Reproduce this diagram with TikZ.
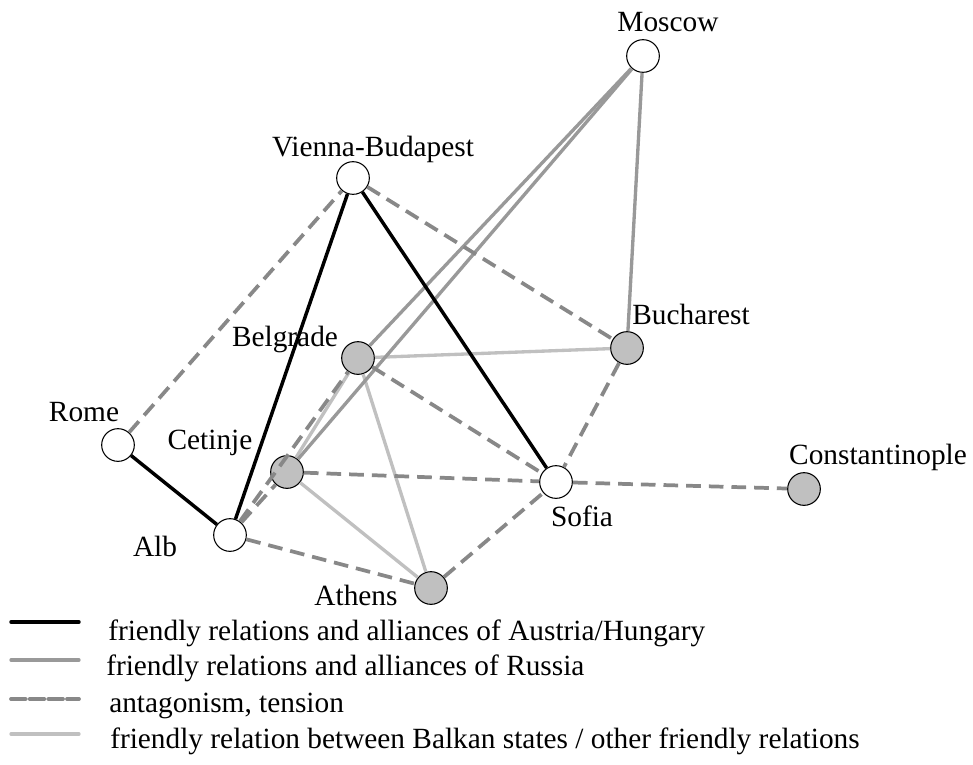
\documentclass[tikz,border=0pt]{standalone}
\usepackage{fontspec}
\setmainfont{Liberation Serif}
\definecolor{rusgray}{HTML}{999999}
\definecolor{tensgray}{HTML}{888888}
\definecolor{balgray}{HTML}{C0C0C0}
\definecolor{nodegray}{HTML}{C0C0C0}
\tikzset{
  city/.style={circle, draw=black, line width=0.8pt, minimum size=24.5pt, inner sep=0pt, fill=white},
  balkan/.style={city, fill=nodegray},
  lbl/.style={anchor=base, inner sep=0pt, font=\fontsize{22}{26}\selectfont},
  legtext/.style={anchor=base west, inner sep=0pt, font=\fontsize{22}{26}\selectfont},
  aus/.style={line width=2.6pt, black},
  rus/.style={line width=2.5pt, rusgray},
  tens/.style={line width=2.8pt, tensgray, dash pattern=on 11pt off 6pt},
  legtens/.style={line width=2.8pt, tensgray, dash pattern=on 11pt off 3pt, line cap=round},
  bal/.style={line width=2.5pt, balgray},
}
\begin{document}
\begin{tikzpicture}[x=0.75pt, y=-0.75pt]
\useasboundingbox (0,0) rectangle (973,764);
% cities
\node[city]   (mos) at (643,56)  {};
\node[city]   (vie) at (353,178) {};
\node[balkan] (buc) at (627,348) {};
\node[balkan] (bel) at (358,358) {};
\node[city]   (rom) at (118,445) {};
\node[balkan] (cet) at (287,472) {};
\node[city]   (sof) at (556,482) {};
\node[balkan] (con) at (804,489) {};
\node[city]   (alb) at (230,535) {};
\node[balkan] (ath) at (431,588) {};
% labels
\node[lbl] (lmos) at (668,31)  {Moscow};
\node[lbl] (lvie) at (373,156) {Vienna-Budapest};
\node[lbl] (lbuc) at (691,324) {Bucharest};
\node[lbl] (lbel) at (285,346) {Belgrade};
\node[lbl] (lrom) at (84,421)  {Rome};
\node[lbl] (lcet) at (210,449) {Cetinje};
\node[lbl] (lsof) at (582,526) {Sofia};
\node[lbl] (lcon) at (878,464) {Constantinople};
\node[lbl] (lalb) at (155,556) {Alb};
\node[lbl] (lath) at (356,605) {Athens};
% friendly relations between Balkan states
\draw[bal] (bel) -- (buc);
\draw[bal] (bel) -- (cet);
\draw[bal] (bel) -- (ath);
\draw[bal] (cet) -- (ath);
% Russia
\draw[rus] (mos) -- (buc);
\draw[rus] (mos) -- (bel);
\draw[rus] (mos) -- (cet);
% tension
\draw[tens] (rom) -- (vie);
\draw[tens] (vie) -- (buc);
\draw[tens] (buc) -- (sof);
\draw[tens] (sof) -- (con);
\draw[tens] (bel) -- (sof);
\draw[tens] (cet) -- (sof);
\draw[tens] (alb) -- (bel);
\draw[tens] (alb) -- (cet);
\draw[tens] (alb) -- (ath);
\draw[tens] (ath) -- (sof);
% Austria/Hungary
\draw[aus] (vie) -- (alb);
\draw[aus] (vie) -- (sof);
\draw[aus] (rom) -- (alb);
% legend
\coordinate (a1) at (11,622); \coordinate (a2) at (79,622);
\coordinate (b1) at (11,660); \coordinate (b2) at (79,660);
\coordinate (c1) at (11,699); \coordinate (c2) at (79,699);
\coordinate (d1) at (11,734); \coordinate (d2) at (79,734);
\draw[aus, line cap=round] (a1) -- (a2);
\draw[rus, line cap=round] (b1) -- (b2);
\draw[legtens] (c1) -- (c2);
\draw[bal, line cap=round] (d1) -- (d2);
\node[legtext] (ta) at (108,640) {friendly relations and alliances of Austria/Hungary};
\node[legtext] (tb) at (106,675) {friendly relations and alliances of Russia};
\node[legtext] (tc) at (109,712) {antagonism, tension};
\node[legtext] (td) at (110,748) {friendly relation between Balkan states / other friendly relations};
\end{tikzpicture}
\end{document}
